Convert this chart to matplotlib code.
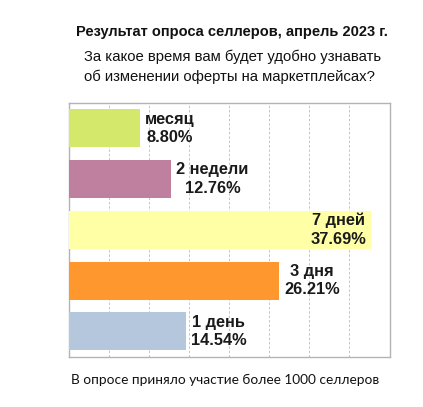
import matplotlib
matplotlib.use("Agg")
import matplotlib.pyplot as plt

categories = ["месяц", "2 недели", "7 дней", "3 дня", "1 день"]
values = [8.80, 12.76, 37.69, 26.21, 14.54]
colors = ["#d4e86c", "#bf7f9f", "#ffffa6", "#ff972f", "#b4c7dc"]
grid_ticks = [5, 10, 15, 20, 25, 30, 35]

title = "Результат опроса селлеров, апрель 2023 г."
subtitle_lines = ["За какое время вам будет удобно узнавать",
                  "об изменении оферты на маркетплейсах?"]
footer = "В опросе приняло участие более 1000 селлеров"

W, H = 423, 407
fig = plt.figure(figsize=(W / 100, H / 100), dpi=100)
fig.patch.set_facecolor("white")

ax = fig.add_axes([69.3 / W, 1 - 356.7 / H, (389.5 - 69.3) / W, (356.7 - 103) / H])
ypos = list(range(len(categories)))
ax.barh(ypos, values, height=0.75, color=colors, zorder=3)
ax.set_xlim(0, 40)
ax.set_ylim(len(categories) - 0.5, -0.5)
ax.set_xticks(grid_ticks)
ax.set_yticks([])
ax.tick_params(axis="x", length=0, labelbottom=False)
ax.grid(axis="x", color="#c4c4c4", linestyle=(0, (2.5, 2)), linewidth=0.7, zorder=0)
for s in ax.spines.values():
    s.set_color("#b3b3b3")
    s.set_linewidth(1.0)

lab_font = dict(family="Liberation Sans", weight="bold", size=11.8, color="#1a1a1a")
for i, (c, v) in enumerate(zip(categories, values)):
    txt = f"{c}\n{v:.2f}%"
    if v > 35:
        ax.annotate(txt, (v, i), xytext=(-3.5, 0), textcoords="offset points",
                    ha="right", va="center", multialignment="center",
                    linespacing=1.3, zorder=4, **lab_font)
    else:
        ax.annotate(txt, (v, i), xytext=(3.5, 0), textcoords="offset points",
                    ha="left", va="center", multialignment="center",
                    linespacing=1.3, zorder=4, **lab_font)

fig.text(232 / W, 1 - 36 / H, title, ha="center", va="baseline",
         family="Liberation Sans", weight="bold", size=10.5, color="#111111")
fig.text(84 / W, 1 - 61 / H, subtitle_lines[0], ha="left", va="baseline",
         family="Liberation Sans", size=10.7, color="#111111")
fig.text(84 / W, 1 - 80.7 / H, subtitle_lines[1], ha="left", va="baseline",
         family="Liberation Sans", size=10.7, color="#111111")
fig.text(224.7 / W, 1 - 384 / H, footer, ha="center", va="baseline",
         family="Lato", size=9.8, color="#111111")

fig.savefig("out.png", dpi=100, facecolor="white")
